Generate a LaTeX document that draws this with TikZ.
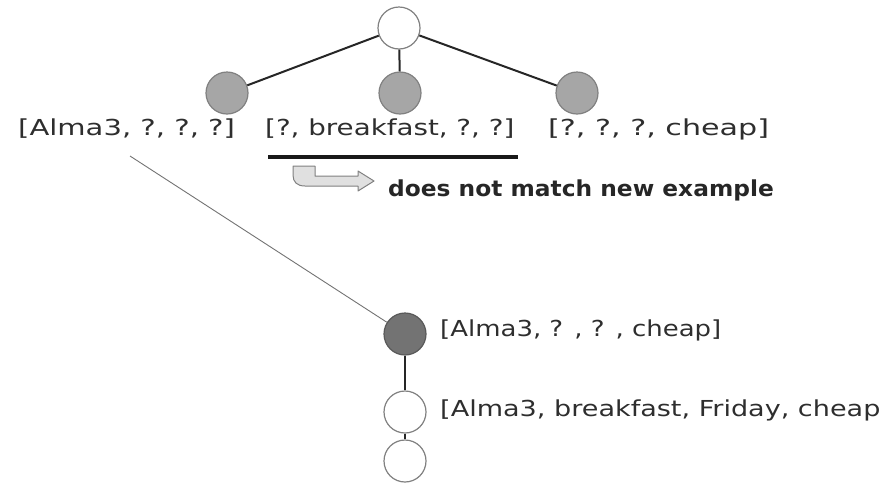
\documentclass[tikz,border=0pt]{standalone}
\usepackage{fontspec}
\setmainfont{DejaVu Sans}
% wide, hand-lettered look for the hypothesis labels
\newcommand{\widetext}[2]{\scalebox{#1}[1]{#2}}
\begin{document}
\begin{tikzpicture}[x=1pt,y=-1pt,
  lbl/.style={font=\fontsize{22}{26}\selectfont, text=black!82, inner sep=0pt, anchor=west},
  note/.style={font=\bfseries\fontsize{22}{26}\selectfont, text=black!85, inner sep=0pt, anchor=west},
  vtx/.style={circle, minimum size=42pt, inner sep=0pt, draw=black!50, line width=1.2pt},
  openv/.style={vtx, fill=white},
  greyv/.style={vtx, fill=black!35},
  darkv/.style={vtx, fill=black!55, draw=black!65},
  edge/.style={line width=2pt, draw=black!85},
  link/.style={line width=0.9pt, draw=black!55}]
\useasboundingbox[clip] (0,0) rectangle (886,483);

% top level of the tree
\node[openv] (root) at (399,28) {};
\node[greyv] (g1) at (227,93) {};
\node[greyv] (g2) at (400,93) {};
\node[greyv] (g3) at (577,93) {};
\draw[edge] (root) -- (g1);
\draw[edge] (root) -- (g2);
\draw[edge] (root) -- (g3);

% hypotheses under the first level
\node[lbl] (h1) at (18,129) {\widetext{1.32}{[Alma3, ?, ?, ?]}};
\node[lbl] (h2) at (265,129) {\widetext{1.26}{[?, breakfast, ?, ?]}};
\node[lbl] (h3) at (548,129) {\widetext{1.37}{[?, ?, ?, cheap]}};

% underline of the rejected hypothesis
\coordinate (ul1) at (268,157);
\coordinate (ul2) at (518,157);
\draw[line width=4pt, black!90] (ul1) -- (ul2);

% hollow bent arrow pointing at the remark
\draw[black!50, fill=black!12, line width=1pt, line join=round]
  (293,166) -- (315,166) -- (315,176) -- (358,176) -- (358,171) -- (374,181)
  -- (358,191) -- (358,186) -- (305,186) .. controls (297,186) and (293,182) .. (293,175) -- cycle;
\node[note] (rem) at (388,190) {\widetext{1.06}{does not match new example}};

% specialisation of the first hypothesis
\coordinate (a3) at (130,156);
\node[darkv] (d) at (405,334) {};
\node[openv] (w1) at (405,412) {};
\node[openv] (w2) at (405,461) {};
\draw[link] (a3) -- (d);
\draw[edge] (d) -- (w1);
\draw[edge] (w1) -- (w2);
\node[lbl] (hd) at (440,330) {\widetext{1.18}{[Alma3, ? , ? , cheap]}};
\node[lbl] (hw) at (440,410) {\widetext{1.23}{[Alma3, breakfast, Friday, cheap}};
\end{tikzpicture}
\end{document}
